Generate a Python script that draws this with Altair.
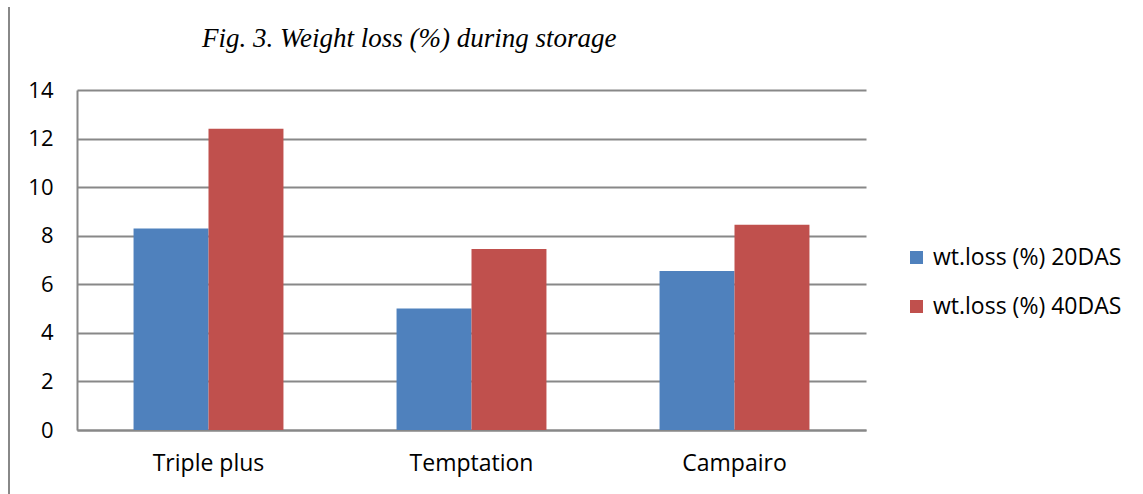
import altair as alt
import pandas as pd

categories = ["Triple plus", "Temptation", "Campairo"]
series = ["wt.loss (%) 20DAS", "wt.loss (%) 40DAS"]
das20 = [8.3, 5.0, 6.55]
das40 = [12.4, 7.45, 8.45]
y_ticks = [0, 2, 4, 6, 8, 10, 12, 14]
colors = ["#4F81BD", "#C0504D"]

rows = []
for i, c in enumerate(categories):
    rows.append({"Variety": c, "Series": series[0], "Value": das20[i]})
    rows.append({"Variety": c, "Series": series[1], "Value": das40[i]})
df = pd.DataFrame(rows)

FONT = "Open Sans"

bars = alt.Chart(df).mark_bar().encode(
    x=alt.X("Variety:N", sort=categories,
            scale=alt.Scale(paddingInner=0.43, paddingOuter=0.215),
            axis=alt.Axis(title=None, labelAngle=0, ticks=False,
                          domainColor="#888888", domainWidth=2,
                          labelFont=FONT, labelFontSize=23, labelColor="#000000",
                          labelPadding=22)),
    xOffset=alt.XOffset("Series:N", sort=series),
    y=alt.Y("Value:Q", scale=alt.Scale(domain=[0, 14], nice=False),
            axis=alt.Axis(title=None, values=y_ticks, ticks=False,
                          grid=True, gridColor="#888888", gridWidth=2,
                          domainColor="#888888", domainWidth=2,
                          labelFont=FONT, labelFontSize=22, labelColor="#000000",
                          labelPadding=24)),
    color=alt.Color("Series:N", sort=series,
                    scale=alt.Scale(domain=series, range=colors),
                    legend=alt.Legend(title=None, orient="none", legendX=828, legendY=156,
                                      symbolType="square", symbolSize=169,
                                      symbolStrokeWidth=0, symbolOpacity=1,
                                      labelFont=FONT, labelFontSize=23, labelColor="#000000",
                                      labelLimit=400,
                                      rowPadding=25, padding=0, labelOffset=5)),
)

left_rule = alt.Chart(df).mark_rule(color="#888888", strokeWidth=2).encode(
    x=alt.value(-68), y=alt.value(-83), y2=alt.value(404)
)

chart = alt.layer(bars, left_rule).properties(
    width=789, height=340,
    autosize=alt.AutoSizeParams(type="none"),
    padding={"left": 77, "top": 90, "right": 277, "bottom": 64},
    title=alt.TitleParams("Fig. 3. Weight loss (%) during storage",
                          font="Liberation Serif", fontStyle="italic", fontWeight="normal",
                          fontSize=27, color="#000000", anchor="start", dx=194,
                          offset=0, dy=47),
).configure_view(stroke=None)

chart.save("out.html", embed_options={"renderer": "svg", "actions": False})
